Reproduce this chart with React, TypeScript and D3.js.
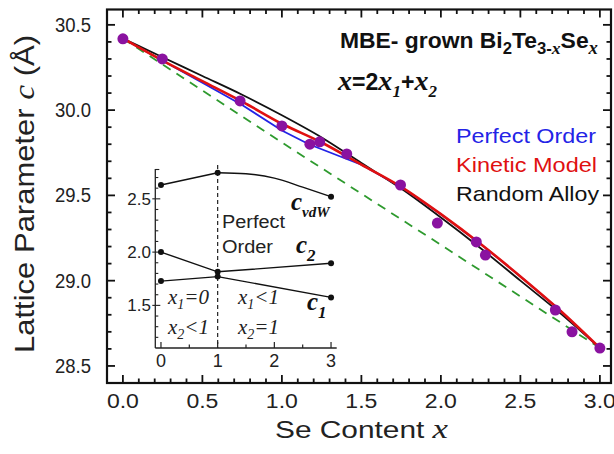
import React from 'react';
import * as d3 from 'd3';

const W = 614;
const H = 454;

// ---- main panel data ----
const sampleX = [0, 0.248, 0.737, 1.0, 1.176, 1.238, 1.408, 1.746, 1.978, 2.223, 2.28, 2.72, 2.825, 3.0];
const sampleC = [30.418, 30.3, 30.054, 29.907, 29.8, 29.814, 29.743, 29.561, 29.338, 29.227, 29.15, 28.828, 28.7, 28.605];

const curveX = [0, 0.25, 0.5, 0.75, 1.0, 1.25, 1.5, 1.75, 2.0, 2.25, 2.5, 2.75, 3.0];
const randomAlloyC = [30.42, 30.31, 30.2, 30.09, 29.97, 29.84, 29.69, 29.54, 29.37, 29.19, 29.0, 28.81, 28.605];
const kineticC = [30.42, 30.29, 30.17, 30.05, 29.92, 29.81, 29.68, 29.55, 29.39, 29.215, 29.025, 28.825, 28.605];
const perfectX = [0, 0.25, 0.5, 0.75, 1.0, 1.17, 1.5, 1.75, 2.0, 2.25, 2.5, 2.75, 3.0];
const perfectC = [30.42, 30.29, 30.16, 30.03, 29.88, 29.8, 29.68, 29.55, 29.39, 29.215, 29.025, 28.825, 28.605];
const vegardX = [0, 1, 2, 3];
const vegardC = [30.42, 29.81, 29.21, 28.605];

const xTickLabels = ['0.0', '0.5', '1.0', '1.5', '2.0', '2.5', '3.0'];
const yTickLabels = ['28.5', '29.0', '29.5', '30.0', '30.5'];

// ---- inset data ----
const insetX = [0, 1, 3];
const cvdwX = [0, 1, 1.5, 2, 2.5, 3];
const cvdwC = [2.63, 2.745, 2.735, 2.695, 2.61, 2.52];
const c2C = [2.0, 1.815, 1.895];
const c1C = [1.728, 1.77, 1.575];
const insetXTicks = ['0', '1', '2', '3'];
const insetYTicks = ['1.5', '2.0', '2.5'];

const SANS = 'Liberation Sans, Arial, sans-serif';
const SERIF = 'Liberation Serif, Times New Roman, serif';

export default function App() {
  const x = d3.scaleLinear().domain([-0.1, 3.07]).range([107, 611]);
  const y = d3.scaleLinear().domain([28.4, 30.59]).range([383, 9.5]);

  const ix = d3.scaleLinear().domain([-0.1, 3.1]).range([155.3, 336.7]);
  const iy = d3.scaleLinear().domain([1.1, 2.78]).range([348, 169]);

  const pts = (xs: number[], ys: number[]) => xs.map((v, i) => [v, ys[i]] as [number, number]);

  const smooth = d3.line<[number, number]>().x(d => x(d[0])).y(d => y(d[1])).curve(d3.curveMonotoneX);
  const straight = d3.line<[number, number]>().x(d => x(d[0])).y(d => y(d[1]));
  const iLine = d3.line<[number, number]>().x(d => ix(d[0])).y(d => iy(d[1]));
  const iSmooth = d3.line<[number, number]>().x(d => ix(d[0])).y(d => iy(d[1])).curve(d3.curveMonotoneX);

  const frame = { l: 107, r: 611, t: 9.5, b: 383 };

  const xMinor = d3.range(-1, 31).map(i => i / 10);
  const yMinor = d3.range(284, 306).map(i => i / 10);

  const cvdwPts = pts(cvdwX, cvdwC);

  return (
    <svg width={W} height={H} style={{ position: 'absolute', left: 0, top: 0, background: '#fff' }}>
      <rect x={0} y={0} width={W} height={H} fill="#fff" />

      {/* ---- inset ---- */}
      <g>
        <line x1={ix(-0.1)} x2={ix(3.1)} y1={348} y2={348} stroke="#222" strokeWidth={1.3} />
        <line x1={ix(-0.1)} x2={ix(-0.1)} y1={169} y2={348} stroke="#222" strokeWidth={1.3} />
        {d3.range(0, 7).map(i => {
          const v = i / 2;
          const major = i % 2 === 0;
          return <line key={'ixt' + i} x1={ix(v)} x2={ix(v)} y1={348} y2={348 - (major ? 6 : 3.5)} stroke="#222" strokeWidth={1.2} />;
        })}
        {d3.range(12, 28).map(i => {
          const v = i / 10;
          const major = i % 5 === 0;
          return <line key={'iyt' + i} x1={ix(-0.1) - (major ? 3 : 0)} x2={ix(-0.1) + (major ? 5 : 3)} y1={iy(v)} y2={iy(v)} stroke="#222" strokeWidth={1.1} />;
        })}
        <line x1={ix(-0.1)} x2={ix(-0.1) + 4} y1={169.5} y2={169.5} stroke="#222" strokeWidth={1.1} />
        {insetXTicks.map(t => (
          <text key={'ixl' + t} x={ix(+t)} y={367} textAnchor="middle" fontFamily={SANS} fontSize={18} fill="#222">{t}</text>
        ))}
        {insetYTicks.map(t => (
          <text key={'iyl' + t} x={151} y={iy(+t) + 6} textAnchor="end" fontFamily={SANS} fontSize={17} fill="#222">{t}</text>
        ))}
        <line x1={ix(1)} x2={ix(1)} y1={165} y2={348} stroke="#222" strokeWidth={1.2} strokeDasharray="4,3" />

        <path d={iLine(cvdwPts.slice(0, 2)) || ''} fill="none" stroke="#111" strokeWidth={1.4} />
        <path d={iSmooth(cvdwPts.slice(1)) || ''} fill="none" stroke="#111" strokeWidth={1.4} />
        <path d={iLine(pts(insetX, c2C)) || ''} fill="none" stroke="#111" strokeWidth={1.4} />
        <path d={iLine(pts(insetX, c1C)) || ''} fill="none" stroke="#111" strokeWidth={1.4} />
        {insetX.map((v, i) => (
          <g key={'im' + i}>
            <circle cx={ix(v)} cy={iy(cvdwC[cvdwX.indexOf(v)])} r={3} fill="#111" />
            <circle cx={ix(v)} cy={iy(c2C[i])} r={3} fill="#111" />
            <circle cx={ix(v)} cy={iy(c1C[i])} r={3} fill="#111" />
          </g>
        ))}

        <text x={222} y={228} fontFamily={SANS} fontSize={18} fill="#222" textLength={63} lengthAdjust="spacingAndGlyphs">Perfect</text>
        <text x={222} y={253} fontFamily={SANS} fontSize={18} fill="#222" textLength={51} lengthAdjust="spacingAndGlyphs">Order</text>

        <text x={291} y={210} fontFamily={SERIF} fontStyle="italic" fontWeight="bold" fontSize={25} fill="#111">c<tspan fontSize={15} dy={7}>vdW</tspan></text>
        <text x={296} y={253} fontFamily={SERIF} fontStyle="italic" fontWeight="bold" fontSize={25} fill="#111">c<tspan fontSize={17} dy={8}>2</tspan></text>
        <text x={307} y={310} fontFamily={SERIF} fontStyle="italic" fontWeight="bold" fontSize={25} fill="#111">c<tspan fontSize={17} dy={8}>1</tspan></text>

        <text x={168} y={304} fontFamily={SERIF} fontStyle="italic" fontSize={21} fill="#222">x<tspan fontSize={14} dy={5}>1</tspan><tspan dy={-5}>=0</tspan></text>
        <text x={168} y={334} fontFamily={SERIF} fontStyle="italic" fontSize={21} fill="#222">x<tspan fontSize={14} dy={5}>2</tspan><tspan dy={-5}>&lt;1</tspan></text>
        <text x={238} y={304} fontFamily={SERIF} fontStyle="italic" fontSize={21} fill="#222">x<tspan fontSize={14} dy={5}>1</tspan><tspan dy={-5}>&lt;1</tspan></text>
        <text x={238} y={334} fontFamily={SERIF} fontStyle="italic" fontSize={21} fill="#222">x<tspan fontSize={14} dy={5}>2</tspan><tspan dy={-5}>=1</tspan></text>
      </g>

      {/* ---- main curves ---- */}
      <path d={straight(pts(vegardX, vegardC)) || ''} fill="none" stroke="#2e9a2e" strokeWidth={1.8} strokeDasharray="9,7" />
      <path d={smooth(pts(curveX, randomAlloyC)) || ''} fill="none" stroke="#111" strokeWidth={1.8} />
      <path d={straight(pts(perfectX, perfectC)) || ''} fill="none" stroke="#2323e6" strokeWidth={1.8} />
      <path d={smooth(pts(curveX, kineticC)) || ''} fill="none" stroke="#e01010" strokeWidth={2.6} />

      {sampleX.map((v, i) => (
        <circle key={'s' + i} cx={x(v)} cy={y(sampleC[i])} r={5.5} fill="#8a12a0" />
      ))}

      {/* ---- frame and ticks ---- */}
      <rect x={frame.l} y={frame.t} width={frame.r - frame.l} height={frame.b - frame.t} fill="none" stroke="#111" strokeWidth={2.2} />
      {xMinor.map((v, i) => {
        const major = Math.round(v * 10) % 5 === 0;
        const len = major ? 8 : 4.5;
        return (
          <g key={'xt' + i}>
            <line x1={x(v)} x2={x(v)} y1={frame.b} y2={frame.b - len} stroke="#111" strokeWidth={1.8} />
            <line x1={x(v)} x2={x(v)} y1={frame.t} y2={frame.t + len} stroke="#111" strokeWidth={1.8} />
          </g>
        );
      })}
      {yMinor.map((v, i) => {
        const major = Math.round(v * 10) % 5 === 0;
        const len = major ? 8 : 4.5;
        return (
          <g key={'yt' + i}>
            <line x1={frame.l} x2={frame.l + len} y1={y(v)} y2={y(v)} stroke="#111" strokeWidth={1.8} />
            <line x1={frame.r} x2={frame.r - len} y1={y(v)} y2={y(v)} stroke="#111" strokeWidth={1.8} />
          </g>
        );
      })}
      {xTickLabels.map(t => (
        <text key={'xl' + t} x={x(+t)} y={408} textAnchor="middle" fontFamily={SANS} fontSize={20} fill="#222" textLength={32} lengthAdjust="spacingAndGlyphs">{t}</text>
      ))}
      {yTickLabels.map(t => (
        <text key={'yl' + t} x={91} y={y(+t) + 7} textAnchor="end" fontFamily={SANS} fontSize={20} fill="#222" textLength={36} lengthAdjust="spacingAndGlyphs">{t}</text>
      ))}

      {/* ---- axis titles ---- */}
      <text x={275} y={438} fontFamily={SANS} fontSize={24} fill="#222" textLength={173} lengthAdjust="spacingAndGlyphs">
        Se Content <tspan fontFamily={SERIF} fontStyle="italic" fontSize={28}>x</tspan>
      </text>
      <text transform="translate(34,353) rotate(-90)" fontFamily={SANS} fontSize={28} fill="#222" textLength={318} lengthAdjust="spacingAndGlyphs">
        Lattice Parameter <tspan fontFamily={SERIF} fontStyle="italic" fontSize={30}>c</tspan> (Å)
      </text>

      {/* ---- annotations ---- */}
      <text x={340} y={48} fontFamily={SANS} fontWeight="bold" fontSize={22} fill="#111" textLength={258} lengthAdjust="spacingAndGlyphs">
        MBE- grown Bi<tspan fontSize={16} dy={6}>2</tspan><tspan dy={-6}>Te</tspan><tspan fontSize={16} dy={6}>3-</tspan><tspan fontSize={17} fontFamily={SERIF} fontStyle="italic">x</tspan><tspan dy={-6}>Se</tspan><tspan fontSize={18} dy={6} fontFamily={SERIF} fontStyle="italic">x</tspan>
      </text>
      <text x={338} y={90} fontFamily={SANS} fontWeight="bold" fontSize={23} fill="#111" textLength={99} lengthAdjust="spacingAndGlyphs">
        <tspan fontFamily={SERIF} fontStyle="italic" fontSize={28}>x</tspan>=2<tspan fontFamily={SERIF} fontStyle="italic" fontSize={28}>x</tspan><tspan fontFamily={SERIF} fontStyle="italic" fontSize={17} dy={7}>1</tspan><tspan dy={-7}>+</tspan><tspan fontFamily={SERIF} fontStyle="italic" fontSize={28}>x</tspan><tspan fontFamily={SERIF} fontStyle="italic" fontSize={17} dy={7}>2</tspan>
      </text>

      <text x={456} y={143} fontFamily={SANS} fontSize={21} fill="#2323e6" textLength={140} lengthAdjust="spacingAndGlyphs">Perfect Order</text>
      <text x={456} y={172} fontFamily={SANS} fontSize={21} fill="#e01010" textLength={141} lengthAdjust="spacingAndGlyphs">Kinetic Model</text>
      <text x={456} y={201} fontFamily={SANS} fontSize={21} fill="#111" textLength={143} lengthAdjust="spacingAndGlyphs">Random Alloy</text>
    </svg>
  );
}
